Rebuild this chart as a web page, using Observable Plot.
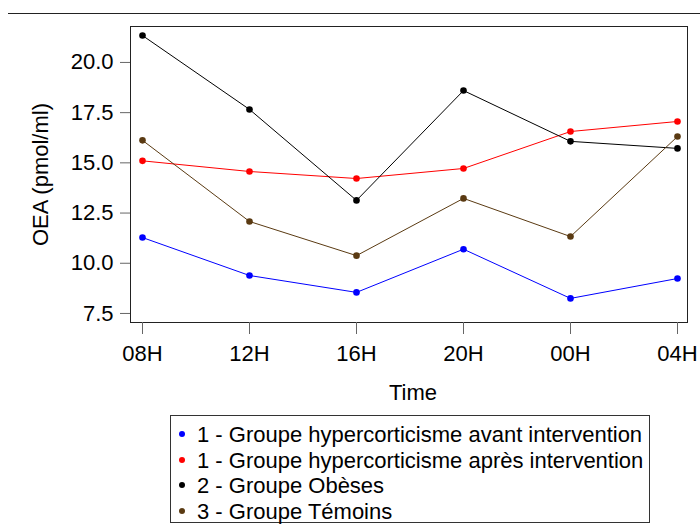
<!DOCTYPE html>
<html>
<head>
<meta charset="utf-8">
<script src="https://cdn.jsdelivr.net/npm/d3@7"></script>
<script src="https://cdn.jsdelivr.net/npm/@observablehq/plot@0.6"></script>
<style>
  html, body { margin: 0; padding: 0; background: #fff; }
  body { width: 700px; height: 531px; position: relative; overflow: hidden;
         font-family: "Liberation Sans", Arial, sans-serif; }
  #rule { position: absolute; left: 8px; top: 13px; width: 692px; height: 0; border-top: 1px solid #222; }
  #chart { position: absolute; left: 0; top: 0; }
  #legend { position: absolute; left: 170px; top: 415px; width: 478px; height: 106px;
            border: 1px solid #333; font-size: 22px; color: #000; }
  .item { position: absolute; left: 0; height: 25px; line-height: 25px; white-space: nowrap; }
  .dot { position: absolute; left: 8px; top: 9px; width: 6px; height: 6px; border-radius: 50%; }
  .lab { position: absolute; left: 26px; top: 0; }
</style>
</head>
<body>
<div id="rule"></div>
<div id="chart"></div>
<div id="legend"></div>
<script>
const times = ["08H", "12H", "16H", "20H", "00H", "04H"];
const groups = [
  "1 - Groupe hypercorticisme avant intervention",
  "1 - Groupe hypercorticisme après intervention",
  "2 - Groupe Obèses",
  "3 - Groupe Témoins"
];
const colors = ["#0000ff", "#ff0000", "#000000", "#5a3a12"];
const avant   = [11.28, 9.39, 8.55, 10.70, 8.25, 9.24];
const apres   = [15.10, 14.57, 14.22, 14.72, 16.56, 17.06];
const obeses  = [21.34, 17.66, 13.13, 18.60, 16.07, 15.72];
const temoins = [16.12, 12.08, 10.38, 13.23, 11.33, 16.31];
const yTicks = [7.5, 10.0, 12.5, 15.0, 17.5, 20.0];

const seriesVals = [avant, apres, obeses, temoins];
const data = [];
groups.forEach((g, gi) => times.forEach((t, ti) => data.push({group: g, time: t, value: seriesVals[gi][ti]})));

const FONT = '"Liberation Sans", Arial, sans-serif';

const plot = Plot.plot({
  width: 700,
  height: 410,
  marginLeft: 130,
  marginRight: 13,
  marginTop: 26,
  marginBottom: 88,
  style: {fontFamily: FONT, fontSize: "22px", color: "#000", background: "transparent"},
  x: {type: "point", domain: times, padding: 0, insetLeft: 10, insetRight: 8, axis: null},
  y: {domain: [7.05, 21.79], axis: null},
  color: {domain: groups, range: colors},
  marks: [
    Plot.frame({stroke: "#222", strokeWidth: 1}),
    Plot.axisY({ticks: yTicks, tickFormat: d3.format(".1f"), tickSize: 10, tickPadding: 7, stroke: "#666", fontSize: 22, label: null}),
    Plot.axisX({tickSize: 12, tickPadding: 11, stroke: "#666", fontSize: 22, label: null}),
    Plot.line(data, {x: "time", y: "value", z: "group", stroke: "group", strokeWidth: 1}),
    Plot.dot(data, {x: "time", y: "value", fill: "group", r: 3.3}),
    Plot.text(["OEA (pmol/ml)"], {frameAnchor: "left", textAnchor: "middle", dx: -90, rotate: -90, fontSize: 22, fill: "#000"}),
    Plot.text(["Time"], {frameAnchor: "bottom", textAnchor: "middle", dy: 77, dx: 4, fontSize: 22, fill: "#000"})
  ]
});
document.getElementById("chart").appendChild(plot);

const legend = document.getElementById("legend");
groups.forEach((g, i) => {
  const item = document.createElement("div");
  item.className = "item";
  item.style.top = (6 + i * 25.5) + "px";
  const dot = document.createElement("span");
  dot.className = "dot";
  dot.style.background = colors[i];
  const lab = document.createElement("span");
  lab.className = "lab";
  lab.textContent = g;
  item.appendChild(dot);
  item.appendChild(lab);
  legend.appendChild(item);
});
</script>
</body>
</html>
